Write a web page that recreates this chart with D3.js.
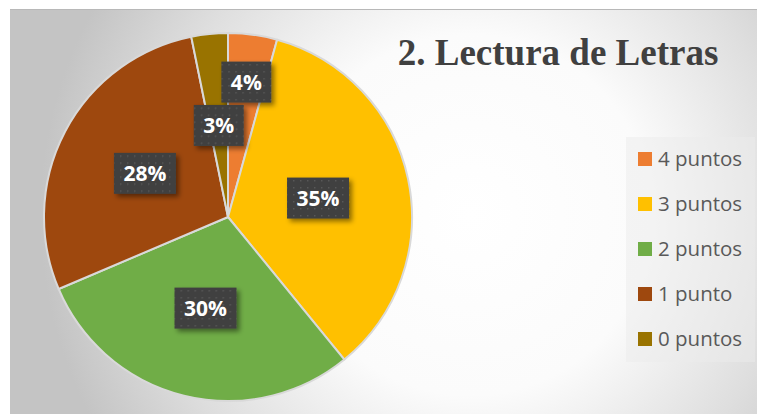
<!DOCTYPE html>
<html>
<head>
<meta charset="utf-8">
<script src="https://cdn.jsdelivr.net/npm/d3@7"></script>
<style>
  html, body { margin: 0; padding: 0; background: #ffffff; }
  svg { display: block; }
</style>
</head>
<body>
<svg id="chart" width="757" height="414"></svg>
<script>
// ---- data ----
const categories = ["4 puntos", "3 puntos", "2 puntos", "1 punto", "0 puntos"];
const values = [4.3, 34.8, 29.5, 28.2, 3.2];
const labels = ["4%", "35%", "30%", "28%", "3%"];
const colors = ["#ED7D31", "#FFC000", "#70AD47", "#9E480E", "#997300"];
const title = "2. Lectura de Letras";

const W = 757, H = 414;
const svg = d3.select("#chart");
const defs = svg.append("defs");

// background radial gradient
const grad = defs.append("radialGradient")
  .attr("id", "bg").attr("gradientUnits", "userSpaceOnUse")
  .attr("cx", 470).attr("cy", 215).attr("r", 430);
grad.append("stop").attr("offset", "0").attr("stop-color", "#ffffff");
grad.append("stop").attr("offset", "0.42").attr("stop-color", "#fbfbfb");
grad.append("stop").attr("offset", "0.75").attr("stop-color", "#dedede");
grad.append("stop").attr("offset", "1").attr("stop-color", "#c4c4c4");

// dotted pattern for label boxes
const pat = defs.append("pattern").attr("id", "dots")
  .attr("patternUnits", "userSpaceOnUse").attr("width", 7).attr("height", 7);
pat.append("rect").attr("width", 7).attr("height", 7).attr("fill", "#404040");
pat.append("rect").attr("x", 3).attr("y", 3).attr("width", 1.4).attr("height", 1.4).attr("fill", "#5a5a5a");

const shadow = defs.append("filter").attr("id", "shadow")
  .attr("x", "-30%").attr("y", "-30%").attr("width", "160%").attr("height", "160%");
shadow.append("feDropShadow").attr("dx", 3).attr("dy", 3).attr("stdDeviation", 2.5)
  .attr("flood-color", "#000").attr("flood-opacity", 0.45);

svg.append("rect").attr("x", 10).attr("y", 9).attr("width", W - 10).attr("height", H - 9)
  .attr("fill", "url(#bg)");
svg.append("line").attr("x1", 10).attr("x2", W).attr("y1", 9.5).attr("y2", 9.5)
  .attr("stroke", "#b8b8b8").attr("stroke-width", 1);

// ---- pie ----
const cx = 228, cy = 217, R = 184;
const pie = d3.pie().sort(null).value(d => d)(values);
const arc = d3.arc().innerRadius(0).outerRadius(R);
const g = svg.append("g").attr("transform", `translate(${cx},${cy})`);

g.selectAll("path.slice").data(pie).join("path")
  .attr("class", "slice")
  .attr("d", arc)
  .attr("fill", (d, i) => colors[i])
  .attr("stroke", "#d9d9d9")
  .attr("stroke-width", 2)
  .attr("stroke-linejoin", "round");

// label radii (fraction of R); small first slice pushed outward
const labelRadius = [0.74, 0.5, 0.51, 0.51, 0.5];
const lg = g.selectAll("g.lbl").data(pie).join("g").attr("class", "lbl")
  .attr("transform", (d, i) => {
    const a = d3.arc().innerRadius(R * labelRadius[i]).outerRadius(R * labelRadius[i]);
    const c = a.centroid(d);
    return `translate(${c[0]},${c[1]})`;
  });

lg.each(function(d, i) {
  const sel = d3.select(this);
  const t = sel.append("text")
    .attr("text-anchor", "middle")
    .attr("dy", "0.36em")
    .attr("font-family", "'Open Sans', sans-serif")
    .attr("font-weight", "bold")
    .attr("font-size", 21)
    .attr("fill", "#ffffff")
    .text(labels[i]);
  const bb = t.node().getBBox();
  const w = bb.width + 19, h = 41;
  sel.insert("rect", "text")
    .attr("x", -w / 2).attr("y", -h / 2)
    .attr("width", w).attr("height", h)
    .attr("fill", "url(#dots)")
    .attr("filter", "url(#shadow)");
});

// ---- title ----
svg.append("text")
  .attr("x", 558).attr("y", 65)
  .attr("text-anchor", "middle")
  .attr("font-family", "'Liberation Serif', 'Times New Roman', serif")
  .attr("font-weight", "bold")
  .attr("font-size", 37)
  .attr("fill", "#404040")
  .text(title);

// ---- legend ----
svg.append("rect").attr("x", 626).attr("y", 137).attr("width", 129).attr("height", 225)
  .attr("fill", "#ececec").attr("opacity", 0.5);

const ly = d3.scalePoint().domain(categories).range([159, 339]);
const leg = svg.selectAll("g.leg").data(categories).join("g").attr("class", "leg")
  .attr("transform", d => `translate(638,${ly(d)})`);
leg.append("rect").attr("x", 0).attr("y", -7).attr("width", 14).attr("height", 14)
  .attr("fill", (d, i) => colors[i]);
leg.append("text").attr("x", 20).attr("dy", "0.36em")
  .attr("font-family", "'Open Sans', sans-serif")
  .attr("font-size", 20.5)
  .attr("fill", "#595959")
  .text(d => d);
</script>
</body>
</html>
